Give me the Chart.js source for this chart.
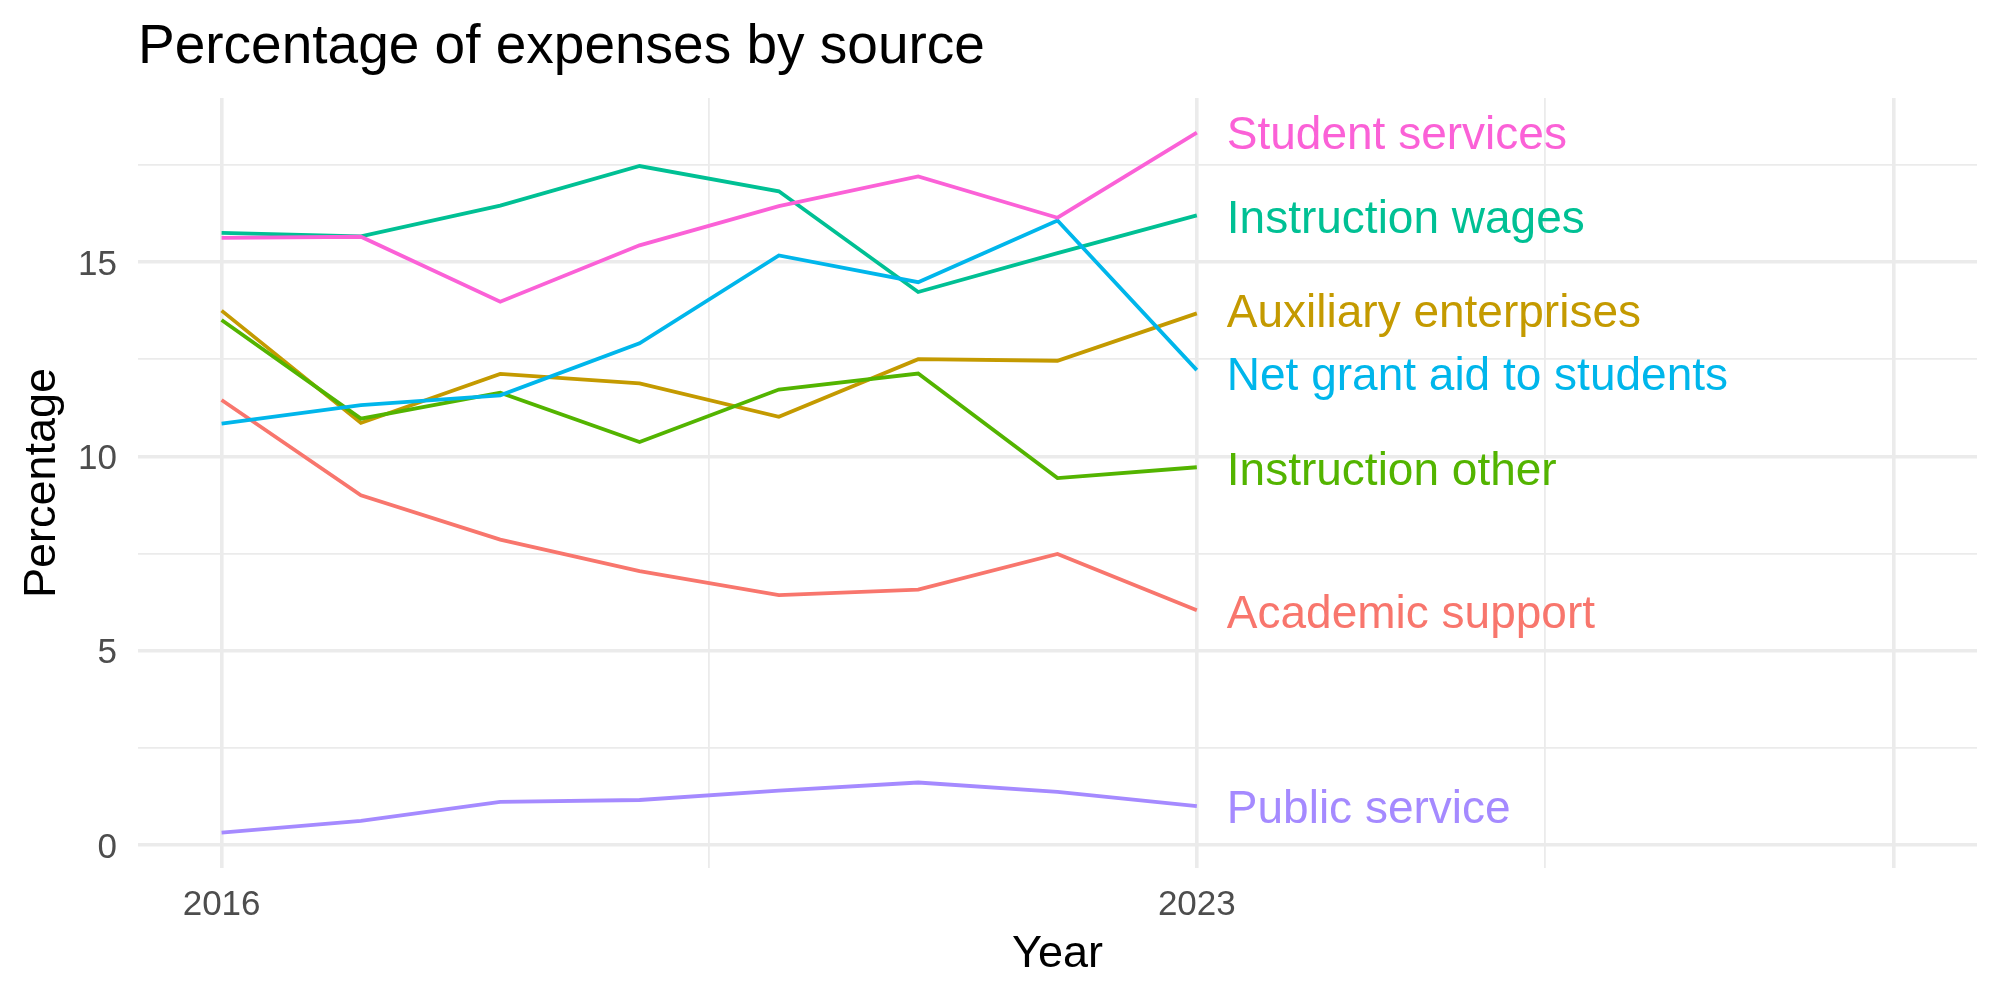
<!DOCTYPE html>
<html>
<head>
<meta charset="utf-8">
<script src="https://cdn.jsdelivr.net/npm/chart.js@4.4.1/dist/chart.umd.min.js"></script>
<style>
  html, body { margin: 0; padding: 0; background: #fff; }
  canvas { display: block; }
</style>
</head>
<body>
<canvas id="myChart" width="2000" height="1000"></canvas>
<script>
const years = [2016, 2017, 2018, 2019, 2020, 2021, 2022, 2023];

const seriesNames = [
  'Academic support',
  'Auxiliary enterprises',
  'Instruction other',
  'Instruction wages',
  'Net grant aid to students',
  'Public service',
  'Student services'
];

const academicSupport = [11.45, 9.00, 7.86, 7.05, 6.43, 6.57, 7.49, 6.04];
const auxiliaryEnterprises = [13.75, 10.86, 12.12, 11.88, 11.02, 12.50, 12.46, 13.68];
const instructionOther = [13.51, 10.97, 11.64, 10.37, 11.72, 12.13, 9.44, 9.72];
const instructionWages = [15.75, 15.66, 16.45, 17.47, 16.82, 14.23, 15.23, 16.20];
const netGrantAid = [10.84, 11.32, 11.57, 12.91, 15.17, 14.48, 16.07, 12.22];
const publicService = [0.32, 0.62, 1.11, 1.16, 1.40, 1.61, 1.37, 1.00];
const studentServices = [15.62, 15.65, 13.98, 15.43, 16.44, 17.20, 16.14, 18.33];

// where each end label sits (value units)
const labelValues = [6.02, 13.74, 9.70, 16.16, 12.13, 0.98, 18.34];

const seriesColors = ['#F8766D', '#C49A00', '#53B400', '#00C094', '#00B6EB', '#A58AFF', '#FB61D7'];

const xTicks = [2016, 2023];
const xTickLabels = ['2016', '2023'];
const xGrid = [2016, 2019.5, 2023, 2025.5, 2028];
const yTicks = [0, 5, 10, 15];
const yTickLabels = ['0', '5', '10', '15'];
const yGrid = [0, 2.5, 5, 7.5, 10, 12.5, 15, 17.5];

const allValues = [academicSupport, auxiliaryEnterprises, instructionOther, instructionWages,
  netGrantAid, publicService, studentServices];

const FONT = '"Liberation Sans", Arial, Helvetica, sans-serif';
const GRID = '#EBEBEB';

const datasets = seriesNames.map((name, i) => ({
  label: name,
  data: years.map((yr, j) => ({ x: yr, y: allValues[i][j] })),
  borderColor: seriesColors[i],
  backgroundColor: seriesColors[i],
  borderWidth: 3.8,
  pointRadius: 0,
  tension: 0,
  fill: false,
  order: seriesNames.length - i
}));

// text outside / on top of the plot, placed from the chart's own scales
const textPlugin = {
  id: 'textPlugin',
  afterDraw(chart) {
    const c = chart.ctx;
    const xs = chart.scales.x;
    const ys = chart.scales.y;
    const area = chart.chartArea;
    c.save();

    // end labels
    c.font = '46px ' + FONT;
    c.textAlign = 'left';
    c.textBaseline = 'alphabetic';
    seriesNames.forEach((name, i) => {
      c.fillStyle = seriesColors[i];
      const px = xs.getPixelForValue(years[years.length - 1]) + 30;
      const py = ys.getPixelForValue(labelValues[i]) + 46 * 0.716 / 2;
      c.fillText(name, px, py);
    });

    // title
    c.fillStyle = '#000';
    c.font = '55px ' + FONT;
    c.fillText('Percentage of expenses by source', area.left, 63);

    // y tick labels
    c.fillStyle = '#4D4D4D';
    c.font = '35px ' + FONT;
    c.textAlign = 'right';
    yTicks.forEach((v, i) => {
      c.fillText(yTickLabels[i], 117, ys.getPixelForValue(v) + 35 * 0.716 / 2);
    });

    // x tick labels
    c.textAlign = 'center';
    xTicks.forEach((v, i) => {
      c.fillText(xTickLabels[i], xs.getPixelForValue(v), 915);
    });

    // axis titles
    c.fillStyle = '#000';
    c.font = '45px ' + FONT;
    c.fillText('Year', (area.left + area.right) / 2, 967);

    c.translate(55, (area.top + area.bottom) / 2);
    c.rotate(-Math.PI / 2);
    c.fillText('Percentage', 0, 0);

    c.restore();
  }
};

const ctx = document.getElementById('myChart').getContext('2d');

new Chart(ctx, {
  type: 'line',
  data: { datasets: datasets },
  options: {
    responsive: false,
    animation: false,
    devicePixelRatio: 1,
    layout: { padding: { left: 138, right: 23, top: 98, bottom: 132 } },
    plugins: {
      legend: { display: false },
      tooltip: { enabled: false },
      title: { display: false }
    },
    scales: {
      x: {
        type: 'linear',
        min: 2015.4,
        max: 2028.6,
        afterBuildTicks: (scale) => { scale.ticks = xGrid.map(v => ({ value: v })); },
        ticks: { display: false },
        border: { display: false },
        grid: {
          color: GRID,
          drawTicks: false,
          lineWidth: (c) => (c.tick && (c.tick.value % 1 !== 0) ? 1.8 : 3.6)
        }
      },
      y: {
        type: 'linear',
        min: -0.59,
        max: 19.22,
        afterBuildTicks: (scale) => { scale.ticks = yGrid.map(v => ({ value: v })); },
        ticks: { display: false },
        border: { display: false },
        grid: {
          color: GRID,
          drawTicks: false,
          lineWidth: (c) => (c.tick && (c.tick.value % 5 !== 0) ? 1.8 : 3.6)
        }
      }
    }
  },
  plugins: [textPlugin]
});
</script>
</body>
</html>
